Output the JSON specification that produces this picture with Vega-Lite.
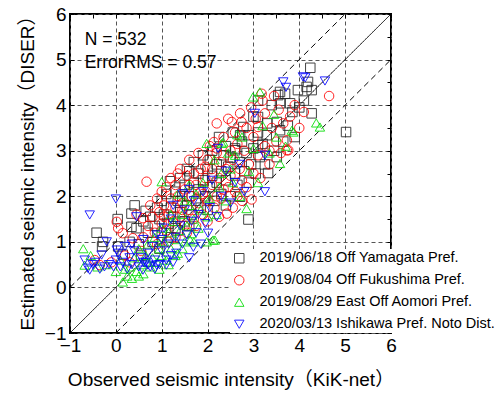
{
  "$schema": "https://vega.github.io/schema/vega-lite/v6.json",
  "width": 321,
  "height": 319,
  "autosize": "none",
  "padding": {"left": 70, "top": 14, "right": 109, "bottom": 62},
  "background": "white",
  "config": {
    "font": "Liberation Sans, Arial, Noto Sans CJK JP, sans-serif",
    "view": {"stroke": "black", "strokeWidth": 2},
    "legend": {
      "orient": "none",
      "legendX": 160,
      "legendY": 235,
      "labelFontSize": 14.5,
      "labelColor": "black",
      "rowPadding": 7,
      "symbolSize": 90,
      "symbolStrokeWidth": 1,
      "labelOffset": 13,
      "labelLimit": 300,
      "padding": 2,
      "fillColor": "white"
    }
  },
  "datasets": {
    "pts": [
      {"e":"Y","x":-0.42,"y":1.2},{"e":"Y","x":-0.3,"y":0.9},{"e":"Y","x":0.04,"y":1.5},{"e":"Y","x":0.41,"y":1.8},{"e":"Y","x":0.05,"y":0.9},{"e":"Y","x":0.15,"y":0.72},{"e":"Y","x":0.3,"y":1.0},{"e":"Y","x":0.45,"y":1.3},{"e":"Y","x":0.5,"y":0.95},{"e":"Y","x":0.55,"y":0.7},
      {"e":"Y","x":0.6,"y":1.45},{"e":"Y","x":0.65,"y":1.68},{"e":"Y","x":0.7,"y":1.2},{"e":"Y","x":0.75,"y":1.55},{"e":"Y","x":0.8,"y":1.0},{"e":"Y","x":0.85,"y":1.35},{"e":"Y","x":0.9,"y":1.75},{"e":"Y","x":0.95,"y":1.5},{"e":"Y","x":0.95,"y":0.85},{"e":"Y","x":1.0,"y":1.2},
      {"e":"Y","x":1.0,"y":1.9},{"e":"Y","x":1.05,"y":1.6},{"e":"Y","x":1.1,"y":2.05},{"e":"Y","x":1.15,"y":1.4},{"e":"Y","x":1.18,"y":2.33},{"e":"Y","x":1.2,"y":1.75},{"e":"Y","x":1.2,"y":1.1},{"e":"Y","x":1.25,"y":1.55},{"e":"Y","x":1.3,"y":2.1},{"e":"Y","x":1.3,"y":1.3},
      {"e":"Y","x":1.35,"y":1.9},{"e":"Y","x":1.35,"y":1.25},{"e":"Y","x":1.4,"y":2.4},{"e":"Y","x":1.4,"y":1.65},{"e":"Y","x":1.45,"y":2.0},{"e":"Y","x":1.5,"y":1.45},{"e":"Y","x":1.5,"y":2.25},{"e":"Y","x":1.55,"y":1.8},{"e":"Y","x":1.55,"y":2.6},{"e":"Y","x":1.6,"y":2.55},
      {"e":"Y","x":1.6,"y":2.0},{"e":"Y","x":1.6,"y":1.35},{"e":"Y","x":1.65,"y":1.6},{"e":"Y","x":1.7,"y":2.3},{"e":"Y","x":1.7,"y":2.75},{"e":"Y","x":1.75,"y":1.9},{"e":"Y","x":1.8,"y":2.15},{"e":"Y","x":1.8,"y":2.5},{"e":"Y","x":1.85,"y":1.75},{"e":"Y","x":1.9,"y":2.9},
      {"e":"Y","x":1.9,"y":2.35},{"e":"Y","x":1.95,"y":2.0},{"e":"Y","x":2.0,"y":2.6},{"e":"Y","x":2.0,"y":1.7},{"e":"Y","x":2.05,"y":2.2},{"e":"Y","x":2.05,"y":2.8},{"e":"Y","x":2.1,"y":3.0},{"e":"Y","x":2.1,"y":2.45},{"e":"Y","x":2.15,"y":1.9},{"e":"Y","x":2.2,"y":2.7},
      {"e":"Y","x":2.2,"y":2.3},{"e":"Y","x":2.25,"y":3.3},{"e":"Y","x":2.3,"y":2.05},{"e":"Y","x":2.3,"y":2.55},{"e":"Y","x":2.35,"y":2.9},{"e":"Y","x":2.4,"y":2.35},{"e":"Y","x":2.4,"y":3.1},{"e":"Y","x":2.4,"y":1.8},{"e":"Y","x":2.45,"y":2.65},{"e":"Y","x":2.5,"y":2.0},
      {"e":"Y","x":2.5,"y":2.85},{"e":"Y","x":2.55,"y":3.4},{"e":"Y","x":2.6,"y":2.5},{"e":"Y","x":2.6,"y":3.05},{"e":"Y","x":2.65,"y":2.25},{"e":"Y","x":2.7,"y":2.75},{"e":"Y","x":2.71,"y":1.99},{"e":"Y","x":2.71,"y":3.34},{"e":"Y","x":2.75,"y":3.2},{"e":"Y","x":2.78,"y":3.52},
      {"e":"Y","x":2.8,"y":2.55},{"e":"Y","x":2.85,"y":2.95},{"e":"Y","x":2.89,"y":1.49},{"e":"Y","x":2.89,"y":3.34},{"e":"Y","x":2.9,"y":2.3},{"e":"Y","x":2.95,"y":2.7},{"e":"Y","x":3.0,"y":3.05},{"e":"Y","x":3.0,"y":3.75},{"e":"Y","x":3.05,"y":2.5},{"e":"Y","x":3.1,"y":3.4},
      {"e":"Y","x":3.1,"y":4.1},{"e":"Y","x":3.1,"y":3.74},{"e":"Y","x":3.1,"y":3.12},{"e":"Y","x":3.14,"y":2.86},{"e":"Y","x":3.2,"y":3.15},{"e":"Y","x":3.25,"y":2.7},{"e":"Y","x":3.29,"y":3.34},{"e":"Y","x":3.3,"y":3.6},{"e":"Y","x":3.32,"y":2.51},{"e":"Y","x":3.4,"y":4.0},
      {"e":"Y","x":3.45,"y":3.0},{"e":"Y","x":3.51,"y":3.63},{"e":"Y","x":3.51,"y":2.86},{"e":"Y","x":3.54,"y":4.22},{"e":"Y","x":3.58,"y":4.29},{"e":"Y","x":3.58,"y":4.04},{"e":"Y","x":3.58,"y":3.45},{"e":"Y","x":3.65,"y":3.2},{"e":"Y","x":3.69,"y":4.25},{"e":"Y","x":3.75,"y":3.55},
      {"e":"Y","x":3.8,"y":4.04},{"e":"Y","x":3.85,"y":3.85},{"e":"Y","x":3.9,"y":3.3},{"e":"Y","x":3.97,"y":4.33},{"e":"Y","x":4.0,"y":3.95},{"e":"Y","x":4.1,"y":4.1},{"e":"Y","x":4.16,"y":4.4},{"e":"Y","x":4.19,"y":4.51},{"e":"Y","x":4.24,"y":4.82},{"e":"Y","x":4.27,"y":4.33},
      {"e":"Y","x":4.27,"y":3.82},{"e":"Y","x":5.02,"y":3.41},{"e":"Y","x":2.6,"y":3.01},{"e":"Y","x":0.34,"y":1.62},{"e":"Y","x":-0.28,"y":1.0},{"e":"Y","x":0.34,"y":1.33},
      {"e":"F","x":-0.46,"y":0.6},{"e":"F","x":-0.35,"y":0.49},{"e":"F","x":-0.1,"y":0.55},{"e":"F","x":0.02,"y":1.44},{"e":"F","x":0.05,"y":1.3},{"e":"F","x":0.15,"y":1.19},{"e":"F","x":0.2,"y":0.7},{"e":"F","x":0.37,"y":1.08},{"e":"F","x":0.45,"y":1.6},{"e":"F","x":0.59,"y":1.52},
      {"e":"F","x":0.67,"y":2.32},{"e":"F","x":0.6,"y":1.1},{"e":"F","x":0.7,"y":1.35},{"e":"F","x":0.75,"y":1.8},{"e":"F","x":0.8,"y":1.55},{"e":"F","x":0.85,"y":1.2},{"e":"F","x":0.9,"y":1.95},{"e":"F","x":0.95,"y":1.65},{"e":"F","x":1.0,"y":1.4},{"e":"F","x":1.0,"y":2.1},
      {"e":"F","x":1.05,"y":1.8},{"e":"F","x":1.1,"y":1.25},{"e":"F","x":1.1,"y":2.2},{"e":"F","x":1.15,"y":1.6},{"e":"F","x":1.2,"y":1.95},{"e":"F","x":1.2,"y":2.4},{"e":"F","x":1.25,"y":1.45},{"e":"F","x":1.3,"y":1.75},{"e":"F","x":1.3,"y":2.25},{"e":"F","x":1.35,"y":2.0},
      {"e":"F","x":1.4,"y":1.55},{"e":"F","x":1.4,"y":2.6},{"e":"F","x":1.45,"y":1.85},{"e":"F","x":1.5,"y":2.15},{"e":"F","x":1.5,"y":1.35},{"e":"F","x":1.55,"y":2.45},{"e":"F","x":1.6,"y":1.7},{"e":"F","x":1.6,"y":2.8},{"e":"F","x":1.65,"y":2.0},{"e":"F","x":1.7,"y":2.5},
      {"e":"F","x":1.7,"y":1.5},{"e":"F","x":1.75,"y":2.25},{"e":"F","x":1.8,"y":1.85},{"e":"F","x":1.8,"y":2.95},{"e":"F","x":1.85,"y":2.6},{"e":"F","x":1.9,"y":2.05},{"e":"F","x":1.9,"y":1.6},{"e":"F","x":1.95,"y":2.4},{"e":"F","x":2.0,"y":2.8},{"e":"F","x":2.0,"y":1.9},
      {"e":"F","x":2.05,"y":3.1},{"e":"F","x":2.1,"y":2.25},{"e":"F","x":2.1,"y":2.6},{"e":"F","x":2.14,"y":3.19},{"e":"F","x":2.15,"y":1.75},{"e":"F","x":2.2,"y":2.95},{"e":"F","x":2.2,"y":3.6},{"e":"F","x":2.25,"y":2.4},{"e":"F","x":2.3,"y":2.75},{"e":"F","x":2.3,"y":1.95},
      {"e":"F","x":2.35,"y":3.3},{"e":"F","x":2.4,"y":2.6},{"e":"F","x":2.42,"y":1.62},{"e":"F","x":2.45,"y":3.7},{"e":"F","x":2.45,"y":2.2},{"e":"F","x":2.5,"y":3.0},{"e":"F","x":2.5,"y":2.45},{"e":"F","x":2.53,"y":3.63},{"e":"F","x":2.55,"y":2.8},{"e":"F","x":2.6,"y":3.4},
      {"e":"F","x":2.6,"y":2.1},{"e":"F","x":2.65,"y":3.15},{"e":"F","x":2.7,"y":2.6},{"e":"F","x":2.74,"y":3.63},{"e":"F","x":2.75,"y":2.35},{"e":"F","x":2.8,"y":3.0},{"e":"F","x":2.85,"y":3.5},{"e":"F","x":2.9,"y":2.7},{"e":"F","x":2.95,"y":3.95},{"e":"F","x":2.96,"y":1.93},
      {"e":"F","x":3.0,"y":3.3},{"e":"F","x":3.0,"y":2.5},{"e":"F","x":3.05,"y":3.7},{"e":"F","x":3.1,"y":2.9},{"e":"F","x":3.1,"y":3.52},{"e":"F","x":3.18,"y":4.25},{"e":"F","x":3.2,"y":4.1},{"e":"F","x":3.25,"y":3.1},{"e":"F","x":3.25,"y":3.82},{"e":"F","x":3.35,"y":2.7},
      {"e":"F","x":3.4,"y":3.5},{"e":"F","x":3.45,"y":4.2},{"e":"F","x":3.5,"y":3.2},{"e":"F","x":3.55,"y":3.9},{"e":"F","x":3.6,"y":2.95},{"e":"F","x":3.65,"y":3.6},{"e":"F","x":3.73,"y":3.01},{"e":"F","x":3.73,"y":3.23},{"e":"F","x":3.76,"y":3.01},{"e":"F","x":3.8,"y":3.75},
      {"e":"F","x":3.9,"y":4.0},{"e":"F","x":4.0,"y":3.5},{"e":"F","x":4.1,"y":3.85},{"e":"F","x":4.65,"y":4.2},{"e":"F","x":0.3,"y":0.55},{"e":"F","x":0.55,"y":0.8},{"e":"F","x":0.9,"y":0.95},{"e":"F","x":1.15,"y":1.0},{"e":"F","x":1.3,"y":1.1},{"e":"F","x":1.55,"y":1.2},
      {"e":"F","x":1.75,"y":1.35},{"e":"F","x":2.0,"y":1.45},{"e":"F","x":2.25,"y":1.55},{"e":"F","x":2.55,"y":1.75},{"e":"F","x":2.75,"y":1.9},{"e":"F","x":2.2,"y":2.0},{"e":"F","x":1.85,"y":2.1},{"e":"F","x":1.6,"y":2.25},{"e":"F","x":1.35,"y":2.5},{"e":"F","x":1.05,"y":1.55},
      {"e":"F","x":1.45,"y":1.7},{"e":"F","x":2.35,"y":2.15},{"e":"F","x":2.65,"y":2.0},{"e":"F","x":1.95,"y":2.65},{"e":"F","x":2.85,"y":2.2},{"e":"F","x":3.15,"y":2.4},{"e":"F","x":3.35,"y":3.0},{"e":"F","x":2.71,"y":3.82},{"e":"F","x":2.2,"y":3.05},
      {"e":"A","x":-0.71,"y":0.85},{"e":"A","x":-0.68,"y":0.49},{"e":"A","x":-0.55,"y":0.7},{"e":"A","x":-0.4,"y":0.45},{"e":"A","x":-0.2,"y":0.5},{"e":"A","x":0.0,"y":0.35},{"e":"A","x":0.1,"y":0.6},{"e":"A","x":0.15,"y":0.12},{"e":"A","x":0.25,"y":0.25},{"e":"A","x":0.3,"y":0.45},
      {"e":"A","x":0.35,"y":0.2},{"e":"A","x":0.4,"y":0.65},{"e":"A","x":0.45,"y":0.35},{"e":"A","x":0.5,"y":0.85},{"e":"A","x":0.55,"y":0.5},{"e":"A","x":0.6,"y":0.3},{"e":"A","x":0.65,"y":0.7},{"e":"A","x":0.7,"y":0.95},{"e":"A","x":0.75,"y":0.45},{"e":"A","x":0.8,"y":0.65},
      {"e":"A","x":0.85,"y":1.1},{"e":"A","x":0.9,"y":0.55},{"e":"A","x":0.95,"y":0.85},{"e":"A","x":1.0,"y":1.3},{"e":"A","x":1.0,"y":0.7},{"e":"A","x":1.0,"y":2.32},{"e":"A","x":1.05,"y":1.0},{"e":"A","x":1.1,"y":0.6},{"e":"A","x":1.15,"y":1.2},{"e":"A","x":1.2,"y":0.85},
      {"e":"A","x":1.25,"y":1.45},{"e":"A","x":1.3,"y":1.05},{"e":"A","x":1.35,"y":0.75},{"e":"A","x":1.4,"y":1.25},{"e":"A","x":1.45,"y":1.6},{"e":"A","x":1.5,"y":1.0},{"e":"A","x":1.55,"y":1.35},{"e":"A","x":1.6,"y":1.8},{"e":"A","x":1.62,"y":1.04},{"e":"A","x":1.65,"y":1.18},
      {"e":"A","x":1.7,"y":1.5},{"e":"A","x":1.75,"y":2.05},{"e":"A","x":1.8,"y":1.3},{"e":"A","x":1.85,"y":1.7},{"e":"A","x":1.9,"y":2.3},{"e":"A","x":1.98,"y":1.0},{"e":"A","x":1.98,"y":3.16},{"e":"A","x":2.0,"y":1.55},{"e":"A","x":2.05,"y":1.95},{"e":"A","x":2.12,"y":1.04},
      {"e":"A","x":2.16,"y":1.04},{"e":"A","x":2.2,"y":1.6},{"e":"A","x":2.25,"y":2.2},{"e":"A","x":2.31,"y":3.16},{"e":"A","x":2.34,"y":3.19},{"e":"A","x":2.4,"y":1.9},{"e":"A","x":2.5,"y":2.6},{"e":"A","x":2.55,"y":2.3},{"e":"A","x":2.6,"y":2.9},{"e":"A","x":2.7,"y":2.0},
      {"e":"A","x":2.75,"y":3.3},{"e":"A","x":2.85,"y":1.73},{"e":"A","x":2.9,"y":2.55},{"e":"A","x":2.99,"y":4.18},{"e":"A","x":3.0,"y":3.05},{"e":"A","x":3.1,"y":2.3},{"e":"A","x":3.14,"y":4.29},{"e":"A","x":3.2,"y":3.55},{"e":"A","x":3.35,"y":2.95},{"e":"A","x":3.45,"y":3.8},
      {"e":"A","x":3.5,"y":3.3},{"e":"A","x":3.58,"y":2.72},{"e":"A","x":3.7,"y":3.1},{"e":"A","x":3.84,"y":3.45},{"e":"A","x":3.87,"y":3.41},{"e":"A","x":4.37,"y":3.61},{"e":"A","x":4.45,"y":3.52},{"e":"A","x":0.2,"y":0.4},{"e":"A","x":0.5,"y":0.25},{"e":"A","x":0.7,"y":0.55},
      {"e":"A","x":0.95,"y":0.4},{"e":"A","x":1.15,"y":0.5},{"e":"A","x":1.3,"y":0.7},{"e":"A","x":1.45,"y":0.85},{"e":"A","x":1.7,"y":1.0},{"e":"A","x":1.2,"y":1.6},{"e":"A","x":1.5,"y":1.9},{"e":"A","x":1.6,"y":2.25},{"e":"A","x":1.35,"y":2.05},{"e":"A","x":2.3,"y":2.5},
      {"e":"A","x":2.15,"y":2.8},{"e":"A","x":2.45,"y":2.95},{"e":"A","x":2.65,"y":3.35},
      {"e":"I","x":-0.68,"y":0.6},{"e":"I","x":-0.61,"y":0.42},{"e":"I","x":-0.57,"y":1.59},{"e":"I","x":-0.57,"y":0.38},{"e":"I","x":-0.5,"y":0.5},{"e":"I","x":-0.45,"y":0.55},{"e":"I","x":-0.35,"y":0.4},{"e":"I","x":-0.31,"y":0.71},{"e":"I","x":-0.2,"y":1.0},{"e":"I","x":-0.15,"y":0.5},
      {"e":"I","x":-0.05,"y":0.45},{"e":"I","x":0.0,"y":1.94},{"e":"I","x":0.02,"y":0.82},{"e":"I","x":0.0,"y":0.6},{"e":"I","x":0.05,"y":0.75},{"e":"I","x":0.1,"y":0.45},{"e":"I","x":0.15,"y":0.55},{"e":"I","x":0.2,"y":0.9},{"e":"I","x":0.25,"y":0.4},{"e":"I","x":0.3,"y":0.65},
      {"e":"I","x":0.35,"y":0.5},{"e":"I","x":0.4,"y":0.8},{"e":"I","x":0.45,"y":1.55},{"e":"I","x":0.5,"y":0.45},{"e":"I","x":0.55,"y":0.65},{"e":"I","x":0.59,"y":0.38},{"e":"I","x":0.6,"y":1.05},{"e":"I","x":0.65,"y":0.55},{"e":"I","x":0.7,"y":0.49},{"e":"I","x":0.7,"y":0.75},
      {"e":"I","x":0.75,"y":0.45},{"e":"I","x":0.8,"y":0.9},{"e":"I","x":0.85,"y":0.6},{"e":"I","x":0.89,"y":0.49},{"e":"I","x":0.9,"y":1.15},{"e":"I","x":0.95,"y":0.5},{"e":"I","x":1.0,"y":0.8},{"e":"I","x":1.05,"y":1.3},{"e":"I","x":1.1,"y":0.6},{"e":"I","x":1.1,"y":0.49},
      {"e":"I","x":1.15,"y":0.95},{"e":"I","x":1.2,"y":1.5},{"e":"I","x":1.25,"y":0.55},{"e":"I","x":1.3,"y":1.1},{"e":"I","x":1.32,"y":0.75},{"e":"I","x":1.4,"y":1.35},{"e":"I","x":1.45,"y":0.95},{"e":"I","x":1.5,"y":1.7},{"e":"I","x":1.55,"y":1.15},{"e":"I","x":1.6,"y":0.65},
      {"e":"I","x":1.65,"y":1.45},{"e":"I","x":1.69,"y":0.88},{"e":"I","x":1.7,"y":1.9},{"e":"I","x":1.75,"y":1.2},{"e":"I","x":1.8,"y":1.6},{"e":"I","x":1.85,"y":0.95},{"e":"I","x":1.9,"y":2.1},{"e":"I","x":1.95,"y":1.4},{"e":"I","x":2.01,"y":1.19},{"e":"I","x":2.05,"y":1.75},
      {"e":"I","x":2.1,"y":2.35},{"e":"I","x":2.2,"y":1.55},{"e":"I","x":2.23,"y":3.05},{"e":"I","x":2.3,"y":2.0},{"e":"I","x":2.4,"y":2.55},{"e":"I","x":2.5,"y":1.85},{"e":"I","x":2.6,"y":2.3},{"e":"I","x":2.7,"y":2.7},{"e":"I","x":2.8,"y":2.1},{"e":"I","x":3.03,"y":3.82},
      {"e":"I","x":3.25,"y":2.1},{"e":"I","x":3.25,"y":2.9},{"e":"I","x":3.65,"y":4.51},{"e":"I","x":3.71,"y":4.39},{"e":"I","x":4.08,"y":4.62},{"e":"I","x":4.13,"y":4.6},{"e":"I","x":4.56,"y":4.53},{"e":"I","x":1.45,"y":2.05},{"e":"I","x":1.25,"y":1.8},{"e":"I","x":1.6,"y":2.15},
      {"e":"I","x":1.0,"y":1.05},{"e":"I","x":0.35,"y":0.95},{"e":"I","x":0.6,"y":0.55},{"e":"I","x":-0.25,"y":0.45},{"e":"I","x":0.85,"y":0.4},{"e":"I","x":1.2,"y":0.7}
    ]
  },
  "layer": [
    {
      "data": {"values": [
        {"l": "c", "x": -1, "y": -1}, {"l": "c", "x": 6, "y": 6},
        {"l": "u", "x": -1, "y": 0}, {"l": "u", "x": 5, "y": 6},
        {"l": "d", "x": 0, "y": -1}, {"l": "d", "x": 6, "y": 5}
      ]},
      "mark": {"type": "line", "color": "black", "strokeWidth": 1},
      "encoding": {
        "x": {
          "field": "x", "type": "quantitative",
          "scale": {"domain": [-1, 6], "nice": false},
          "axis": {
            "orient": "bottom",
            "title": "Observed seismic intensity（KiK-net）",
            "titleFontSize": 19, "titleFontWeight": "normal", "titleColor": "black",
            "titleY": 52, "titleBaseline": "alphabetic",
            "values": [-1,-0.5,0,0.5,1,1.5,2,2.5,3,3.5,4,4.5,5,5.5,6],
            "format": "d",
            "labelExpr": "datum.value % 1 != 0 ? '' : datum.label",
            "labelOverlap": false, "labelFlush": false,
            "labelFontSize": 19, "labelColor": "black", "labelPadding": 7,
            "domain": false,
            "tickSize": -4, "tickColor": "black", "tickWidth": 1,
            "grid": true, "gridColor": "#555", "gridDash": [4, 3], "gridWidth": 1,
            "gridOpacity": {"condition": {"test": "datum.value % 1 != 0", "value": 0}, "value": 1}
          }
        },
        "y": {
          "field": "y", "type": "quantitative",
          "scale": {"domain": [-1, 6], "nice": false},
          "axis": {
            "orient": "left",
            "title": "Estimated seismic intensity（DISER）",
            "titleFontSize": 19, "titleFontWeight": "normal", "titleColor": "black",
            "titleX": -37, "titleY": 154, "titleBaseline": "alphabetic", "titleAngle": -90,
            "values": [-1,-0.5,0,0.5,1,1.5,2,2.5,3,3.5,4,4.5,5,5.5,6],
            "format": "d",
            "labelExpr": "datum.value % 1 != 0 ? '' : datum.label",
            "labelOverlap": false, "labelFlush": false,
            "labelFontSize": 19, "labelColor": "black", "labelPadding": 8,
            "domain": false,
            "tickSize": -4, "tickColor": "black", "tickWidth": 1,
            "grid": true, "gridColor": "#555", "gridDash": [4, 3], "gridWidth": 1,
            "gridOpacity": {"condition": {"test": "datum.value % 1 != 0", "value": 0}, "value": 1}
          }
        },
        "detail": {"field": "l"},
        "strokeDash": {
          "field": "l", "type": "nominal",
          "scale": {"domain": ["c", "u", "d"], "range": [[1, 0], [6, 4], [6, 4]]},
          "legend": null
        }
      }
    },
    {
      "data": {"name": "pts"},
      "mark": {"type": "point", "filled": false, "strokeWidth": 1, "size": 90, "opacity": 0.85},
      "encoding": {
        "x": {
          "field": "x", "type": "quantitative",
          "axis": {
            "orient": "top", "title": null, "labels": false, "domain": false, "grid": false,
            "values": [-1,-0.5,0,0.5,1,1.5,2,2.5,3,3.5,4,4.5,5,5.5,6],
            "tickSize": -4, "tickColor": "black", "tickWidth": 1
          }
        },
        "y": {
          "field": "y", "type": "quantitative",
          "axis": {
            "orient": "right", "title": null, "labels": false, "domain": false, "grid": false,
            "values": [-1,-0.5,0,0.5,1,1.5,2,2.5,3,3.5,4,4.5,5,5.5,6],
            "tickSize": -4, "tickColor": "black", "tickWidth": 1
          }
        },
        "color": {
          "field": "e", "type": "nominal",
          "scale": {"domain": ["Y", "F", "A", "I"], "range": ["#222222", "#ff0000", "#00dd00", "#0000ff"]},
          "legend": {
            "title": null,
            "labelExpr": "datum.label == 'Y' ? '2019/06/18 Off Yamagata Pref.' : datum.label == 'F' ? '2019/08/04 Off Fukushima Pref.' : datum.label == 'A' ? '2019/08/29 East Off Aomori Pref.' : '2020/03/13 Ishikawa Pref. Noto Dist.'"
          }
        },
        "shape": {
          "field": "e", "type": "nominal",
          "scale": {"domain": ["Y", "F", "A", "I"], "range": ["square", "circle", "triangle-up", "triangle-down"]},
          "legend": {
            "title": null,
            "labelExpr": "datum.label == 'Y' ? '2019/06/18 Off Yamagata Pref.' : datum.label == 'F' ? '2019/08/04 Off Fukushima Pref.' : datum.label == 'A' ? '2019/08/29 East Off Aomori Pref.' : '2020/03/13 Ishikawa Pref. Noto Dist.'"
          }
        }
      }
    },
    {
      "data": {"values": [
        {"t": "N = 532", "x": -0.68, "y": 5.42},
        {"t": "ErrorRMS = 0.57", "x": -0.68, "y": 4.93}
      ]},
      "mark": {"type": "text", "align": "left", "baseline": "middle", "fontSize": 17.5, "color": "black"},
      "encoding": {
        "x": {"field": "x", "type": "quantitative", "axis": null},
        "y": {"field": "y", "type": "quantitative", "axis": null},
        "text": {"field": "t"}
      }
    }
  ],
  "resolve": {"axis": {"x": "independent", "y": "independent"}}
}
